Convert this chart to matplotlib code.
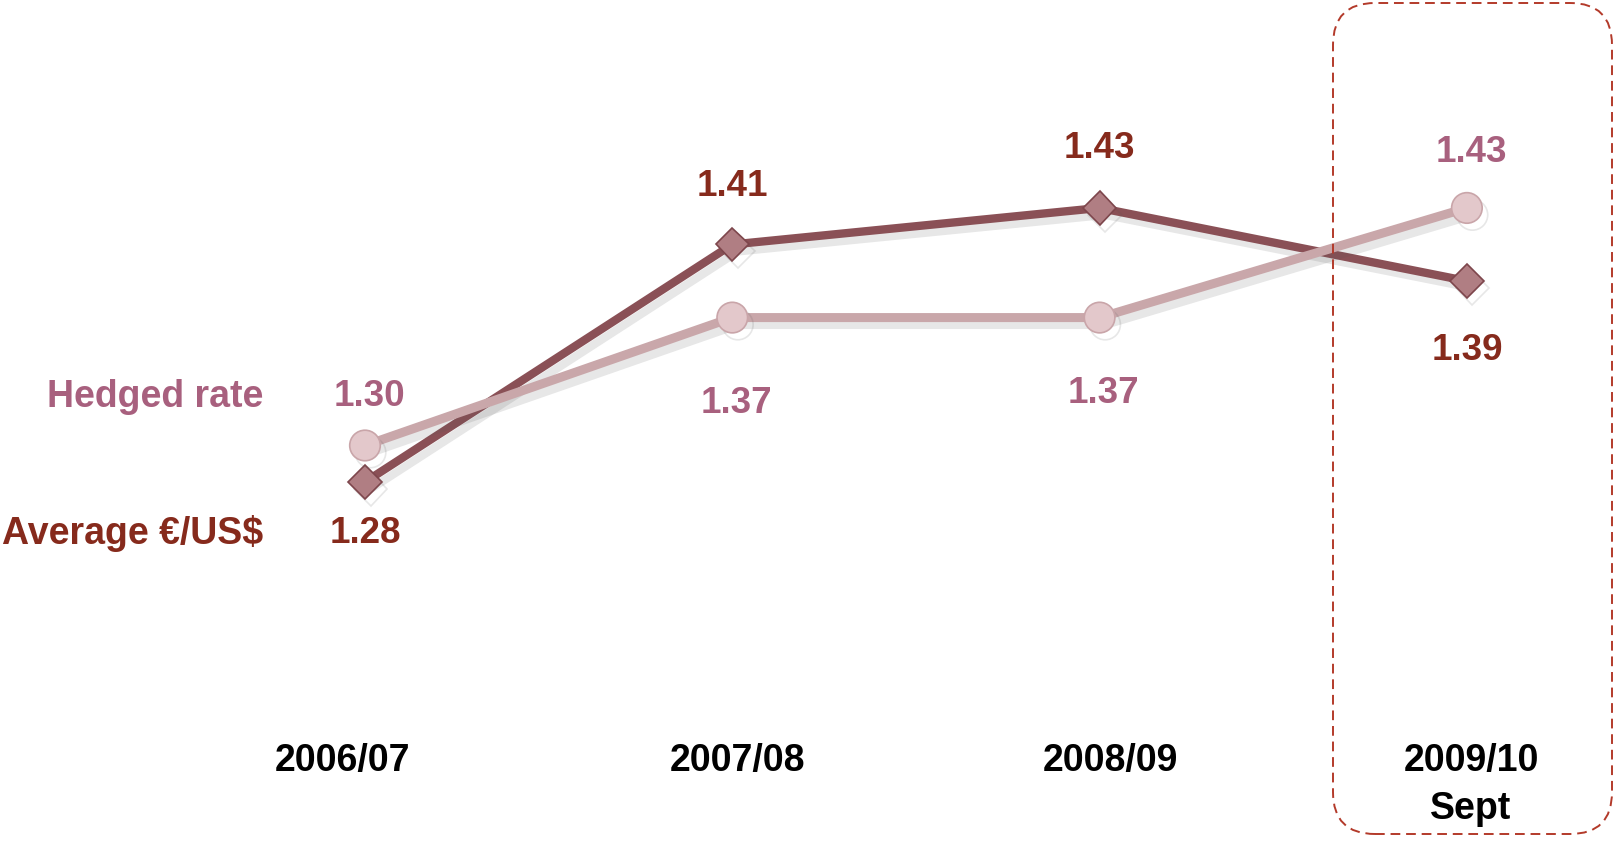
import matplotlib.pyplot as plt
import matplotlib.patheffects as pe
from matplotlib.patches import FancyBboxPatch

# data
years = ["2006/07", "2007/08", "2008/09", "2009/10\nSept"]
avg_rate = [1.28, 1.41, 1.43, 1.39]
hedged_rate = [1.30, 1.37, 1.37, 1.43]

# label offsets in points (above / below the marker)
avg_off = [37, -42, -43, 50]
hedged_off = [-35, 62, 55, -40]
year_dx = [-16, 4, 8, 3]

DARK_LINE = "#8a5056"
LIGHT_LINE = "#c9a7aa"
AVG_TXT = "#862a1c"
HEDGE_TXT = "#a8607e"

plt.rcParams["font.family"] = ["Liberation Sans", "DejaVu Sans"]

fig = plt.figure(figsize=(16.14, 8.42), dpi=100)
ax = fig.add_axes([0, 0, 1, 1])
ax.set_xlim(-0.9937, 3.4005)
ax.set_ylim(1.083, 1.5438)
ax.axis("off")

x = range(len(years))
shadow = [pe.SimpleLineShadow(offset=(4, -5), alpha=0.14, shadow_color="#555555"), pe.Normal()]

ax.plot(x, avg_rate, color=DARK_LINE, lw=6, marker="D", markersize=17,
        markerfacecolor="#b07e83", markeredgecolor="#7d464c", markeredgewidth=1.2,
        solid_capstyle="round", path_effects=shadow, zorder=3)
ax.plot(x, hedged_rate, color=LIGHT_LINE, lw=6.5, marker="o", markersize=22,
        markerfacecolor="#e3c8cb", markeredgecolor="#c9a5a9", markeredgewidth=1.2,
        solid_capstyle="round", path_effects=shadow, zorder=4)

for i, v in enumerate(avg_rate):
    ax.annotate(f"{v:.2f}", (i, v), xytext=(0, -avg_off[i]), textcoords="offset points",
                ha="center", va="center", fontsize=26.5, fontweight="bold", color=AVG_TXT)
for i, v in enumerate(hedged_rate):
    ax.annotate(f"{v:.2f}", (i, v), xytext=(3, -hedged_off[i]), textcoords="offset points",
                ha="center", va="center", fontsize=26.5, fontweight="bold", color=HEDGE_TXT)

# series labels on the left
ax.annotate("Hedged rate", (0, hedged_rate[0]), xytext=(-73, 35), textcoords="offset points",
            ha="right", va="center", fontsize=27, fontweight="bold", color=HEDGE_TXT)
ax.annotate("Average €/US$", (0, avg_rate[0]), xytext=(-73, -37), textcoords="offset points",
            ha="right", va="center", fontsize=27, fontweight="bold", color=AVG_TXT)

# category labels
for i, lab in enumerate(years):
    ax.annotate(lab, (i, 1.083), xytext=(year_dx[i], 71), textcoords="offset points",
                ha="center", va="top", fontsize=27, fontweight="bold", color="black",
                linespacing=1.4)

# dashed highlight box around last period
box = FancyBboxPatch((1333 + 42, 8 + 42), 279 - 84, 831 - 84,
                     boxstyle="round,pad=42", transform=None,
                     fill=False, edgecolor="#b33a2a", lw=1.4, ls=(0, (5, 3)), zorder=5)
fig.patches.append(box)

fig.savefig("out.png", dpi=100)
